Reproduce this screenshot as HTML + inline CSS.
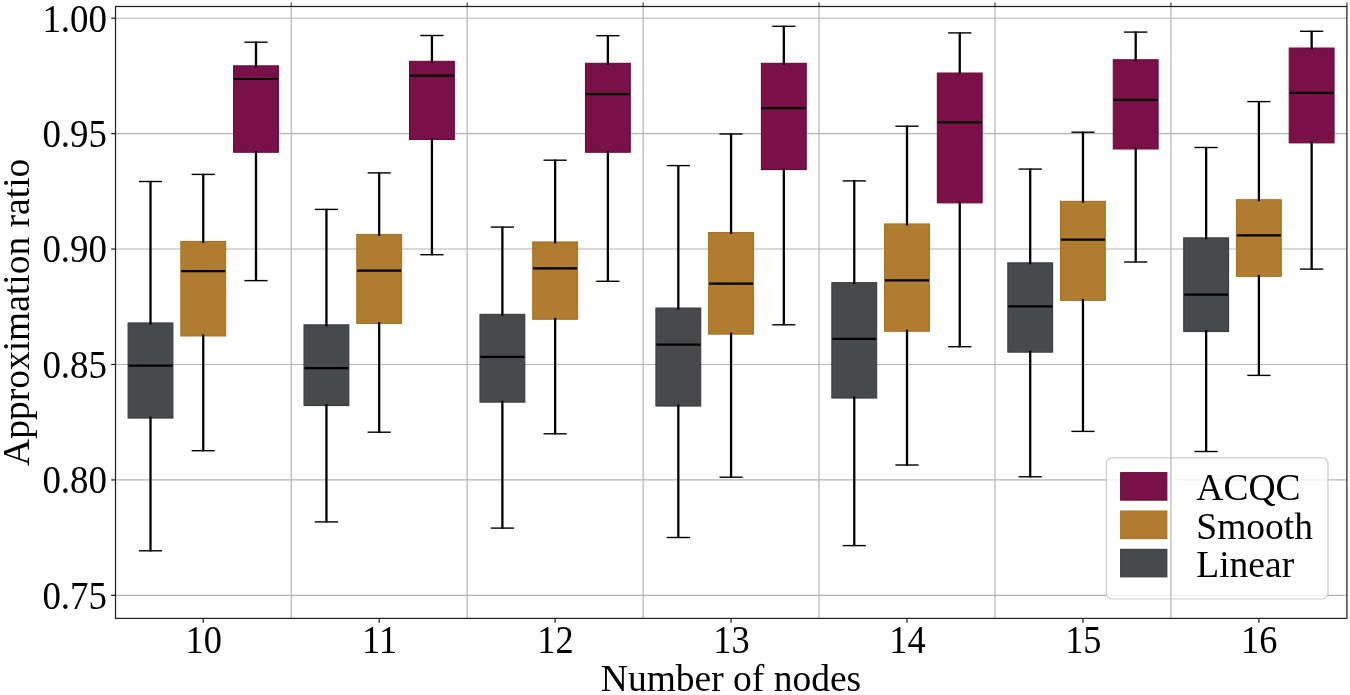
<!DOCTYPE html>
<html lang="en"><head><meta charset="utf-8"><title>Approximation ratio vs number of nodes</title>
<style>html,body{margin:0;padding:0;background:#fff}body{width:1350px;height:695px;overflow:hidden}svg{display:block}text{font-family:"Liberation Serif","Times New Roman",serif;fill:#000}</style>
</head><body>
<svg width="1350" height="695" viewBox="0 0 1350 695">
<rect x="0" y="0" width="1350" height="695" fill="#ffffff"/>
<g stroke="#b4b4b4" stroke-width="1.1" fill="none">
<line x1="115.5" y1="18.20" x2="1346.9" y2="18.20"/>
<line x1="115.5" y1="133.63" x2="1346.9" y2="133.63"/>
<line x1="115.5" y1="249.06" x2="1346.9" y2="249.06"/>
<line x1="115.5" y1="364.49" x2="1346.9" y2="364.49"/>
<line x1="115.5" y1="479.92" x2="1346.9" y2="479.92"/>
<line x1="115.5" y1="595.35" x2="1346.9" y2="595.35"/>
</g>
<g>
<rect x="128.10" y="322.95" width="44.8" height="95.10" fill="#48494b" stroke="#3b3c3e" stroke-width="1.1"/>
<g stroke="#000" fill="none">
<line x1="150.50" y1="180.90" x2="150.50" y2="324.40" stroke-width="2.3"/>
<line x1="150.50" y1="416.60" x2="150.50" y2="551.40" stroke-width="2.3"/>
<line x1="138.90" y1="181.50" x2="162.10" y2="181.50" stroke-width="1.4"/>
<line x1="138.90" y1="550.80" x2="162.10" y2="550.80" stroke-width="1.4"/>
<line x1="128.50" y1="365.70" x2="172.50" y2="365.70" stroke-width="2.2"/>
</g></g>
<g>
<rect x="180.85" y="241.45" width="44.8" height="94.50" fill="#b07d30" stroke="#a87222" stroke-width="1.1"/>
<g stroke="#000" fill="none">
<line x1="203.25" y1="173.80" x2="203.25" y2="242.90" stroke-width="2.3"/>
<line x1="203.25" y1="334.50" x2="203.25" y2="451.30" stroke-width="2.3"/>
<line x1="191.65" y1="174.40" x2="214.85" y2="174.40" stroke-width="1.4"/>
<line x1="191.65" y1="450.70" x2="214.85" y2="450.70" stroke-width="1.4"/>
<line x1="181.25" y1="271.20" x2="225.25" y2="271.20" stroke-width="2.2"/>
</g></g>
<g>
<rect x="233.60" y="65.85" width="44.8" height="86.40" fill="#7a1048" stroke="#6b0a3b" stroke-width="1.1"/>
<g stroke="#000" fill="none">
<line x1="256.00" y1="41.60" x2="256.00" y2="67.30" stroke-width="2.3"/>
<line x1="256.00" y1="150.80" x2="256.00" y2="281.20" stroke-width="2.3"/>
<line x1="244.40" y1="42.20" x2="267.60" y2="42.20" stroke-width="1.4"/>
<line x1="244.40" y1="280.60" x2="267.60" y2="280.60" stroke-width="1.4"/>
<line x1="234.00" y1="79.00" x2="278.00" y2="79.00" stroke-width="2.2"/>
</g></g>
<g>
<rect x="304.04" y="324.85" width="44.8" height="80.70" fill="#48494b" stroke="#3b3c3e" stroke-width="1.1"/>
<g stroke="#000" fill="none">
<line x1="326.44" y1="208.80" x2="326.44" y2="326.30" stroke-width="2.3"/>
<line x1="326.44" y1="404.10" x2="326.44" y2="522.50" stroke-width="2.3"/>
<line x1="314.84" y1="209.40" x2="338.04" y2="209.40" stroke-width="1.4"/>
<line x1="314.84" y1="521.90" x2="338.04" y2="521.90" stroke-width="1.4"/>
<line x1="304.44" y1="368.10" x2="348.44" y2="368.10" stroke-width="2.2"/>
</g></g>
<g>
<rect x="356.79" y="234.45" width="44.8" height="89.00" fill="#b07d30" stroke="#a87222" stroke-width="1.1"/>
<g stroke="#000" fill="none">
<line x1="379.19" y1="172.30" x2="379.19" y2="235.90" stroke-width="2.3"/>
<line x1="379.19" y1="322.00" x2="379.19" y2="432.80" stroke-width="2.3"/>
<line x1="367.59" y1="172.90" x2="390.79" y2="172.90" stroke-width="1.4"/>
<line x1="367.59" y1="432.20" x2="390.79" y2="432.20" stroke-width="1.4"/>
<line x1="357.19" y1="270.60" x2="401.19" y2="270.60" stroke-width="2.2"/>
</g></g>
<g>
<rect x="409.54" y="61.35" width="44.8" height="78.10" fill="#7a1048" stroke="#6b0a3b" stroke-width="1.1"/>
<g stroke="#000" fill="none">
<line x1="431.94" y1="34.90" x2="431.94" y2="62.80" stroke-width="2.3"/>
<line x1="431.94" y1="138.00" x2="431.94" y2="255.30" stroke-width="2.3"/>
<line x1="420.34" y1="35.50" x2="443.54" y2="35.50" stroke-width="1.4"/>
<line x1="420.34" y1="254.70" x2="443.54" y2="254.70" stroke-width="1.4"/>
<line x1="409.94" y1="75.60" x2="453.94" y2="75.60" stroke-width="2.2"/>
</g></g>
<g>
<rect x="479.98" y="314.35" width="44.8" height="87.80" fill="#48494b" stroke="#3b3c3e" stroke-width="1.1"/>
<g stroke="#000" fill="none">
<line x1="502.38" y1="226.50" x2="502.38" y2="315.80" stroke-width="2.3"/>
<line x1="502.38" y1="400.70" x2="502.38" y2="528.70" stroke-width="2.3"/>
<line x1="490.78" y1="227.10" x2="513.98" y2="227.10" stroke-width="1.4"/>
<line x1="490.78" y1="528.10" x2="513.98" y2="528.10" stroke-width="1.4"/>
<line x1="480.38" y1="356.80" x2="524.38" y2="356.80" stroke-width="2.2"/>
</g></g>
<g>
<rect x="532.73" y="241.95" width="44.8" height="77.30" fill="#b07d30" stroke="#a87222" stroke-width="1.1"/>
<g stroke="#000" fill="none">
<line x1="555.13" y1="159.60" x2="555.13" y2="243.40" stroke-width="2.3"/>
<line x1="555.13" y1="317.80" x2="555.13" y2="434.40" stroke-width="2.3"/>
<line x1="543.53" y1="160.20" x2="566.73" y2="160.20" stroke-width="1.4"/>
<line x1="543.53" y1="433.80" x2="566.73" y2="433.80" stroke-width="1.4"/>
<line x1="533.13" y1="268.30" x2="577.13" y2="268.30" stroke-width="2.2"/>
</g></g>
<g>
<rect x="585.48" y="63.35" width="44.8" height="88.90" fill="#7a1048" stroke="#6b0a3b" stroke-width="1.1"/>
<g stroke="#000" fill="none">
<line x1="607.88" y1="35.10" x2="607.88" y2="64.80" stroke-width="2.3"/>
<line x1="607.88" y1="150.80" x2="607.88" y2="281.90" stroke-width="2.3"/>
<line x1="596.28" y1="35.70" x2="619.48" y2="35.70" stroke-width="1.4"/>
<line x1="596.28" y1="281.30" x2="619.48" y2="281.30" stroke-width="1.4"/>
<line x1="585.88" y1="94.10" x2="629.88" y2="94.10" stroke-width="2.2"/>
</g></g>
<g>
<rect x="655.92" y="308.05" width="44.8" height="98.00" fill="#48494b" stroke="#3b3c3e" stroke-width="1.1"/>
<g stroke="#000" fill="none">
<line x1="678.32" y1="165.00" x2="678.32" y2="309.50" stroke-width="2.3"/>
<line x1="678.32" y1="404.60" x2="678.32" y2="538.10" stroke-width="2.3"/>
<line x1="666.72" y1="165.60" x2="689.92" y2="165.60" stroke-width="1.4"/>
<line x1="666.72" y1="537.50" x2="689.92" y2="537.50" stroke-width="1.4"/>
<line x1="656.32" y1="344.60" x2="700.32" y2="344.60" stroke-width="2.2"/>
</g></g>
<g>
<rect x="708.67" y="232.55" width="44.8" height="101.60" fill="#b07d30" stroke="#a87222" stroke-width="1.1"/>
<g stroke="#000" fill="none">
<line x1="731.07" y1="133.40" x2="731.07" y2="234.00" stroke-width="2.3"/>
<line x1="731.07" y1="332.70" x2="731.07" y2="477.80" stroke-width="2.3"/>
<line x1="719.47" y1="134.00" x2="742.67" y2="134.00" stroke-width="1.4"/>
<line x1="719.47" y1="477.20" x2="742.67" y2="477.20" stroke-width="1.4"/>
<line x1="709.07" y1="283.70" x2="753.07" y2="283.70" stroke-width="2.2"/>
</g></g>
<g>
<rect x="761.42" y="63.35" width="44.8" height="106.20" fill="#7a1048" stroke="#6b0a3b" stroke-width="1.1"/>
<g stroke="#000" fill="none">
<line x1="783.82" y1="25.70" x2="783.82" y2="64.80" stroke-width="2.3"/>
<line x1="783.82" y1="168.10" x2="783.82" y2="325.40" stroke-width="2.3"/>
<line x1="772.22" y1="26.30" x2="795.42" y2="26.30" stroke-width="1.4"/>
<line x1="772.22" y1="324.80" x2="795.42" y2="324.80" stroke-width="1.4"/>
<line x1="761.82" y1="108.20" x2="805.82" y2="108.20" stroke-width="2.2"/>
</g></g>
<g>
<rect x="831.86" y="282.65" width="44.8" height="115.40" fill="#48494b" stroke="#3b3c3e" stroke-width="1.1"/>
<g stroke="#000" fill="none">
<line x1="854.26" y1="180.30" x2="854.26" y2="284.10" stroke-width="2.3"/>
<line x1="854.26" y1="396.60" x2="854.26" y2="546.20" stroke-width="2.3"/>
<line x1="842.66" y1="180.90" x2="865.86" y2="180.90" stroke-width="1.4"/>
<line x1="842.66" y1="545.60" x2="865.86" y2="545.60" stroke-width="1.4"/>
<line x1="832.26" y1="338.90" x2="876.26" y2="338.90" stroke-width="2.2"/>
</g></g>
<g>
<rect x="884.61" y="223.95" width="44.8" height="107.30" fill="#b07d30" stroke="#a87222" stroke-width="1.1"/>
<g stroke="#000" fill="none">
<line x1="907.01" y1="125.60" x2="907.01" y2="225.40" stroke-width="2.3"/>
<line x1="907.01" y1="329.80" x2="907.01" y2="465.60" stroke-width="2.3"/>
<line x1="895.41" y1="126.20" x2="918.61" y2="126.20" stroke-width="1.4"/>
<line x1="895.41" y1="465.00" x2="918.61" y2="465.00" stroke-width="1.4"/>
<line x1="885.01" y1="280.30" x2="929.01" y2="280.30" stroke-width="2.2"/>
</g></g>
<g>
<rect x="937.36" y="73.05" width="44.8" height="129.80" fill="#7a1048" stroke="#6b0a3b" stroke-width="1.1"/>
<g stroke="#000" fill="none">
<line x1="959.76" y1="32.30" x2="959.76" y2="74.50" stroke-width="2.3"/>
<line x1="959.76" y1="201.40" x2="959.76" y2="347.30" stroke-width="2.3"/>
<line x1="948.16" y1="32.90" x2="971.36" y2="32.90" stroke-width="1.4"/>
<line x1="948.16" y1="346.70" x2="971.36" y2="346.70" stroke-width="1.4"/>
<line x1="937.76" y1="122.30" x2="981.76" y2="122.30" stroke-width="2.2"/>
</g></g>
<g>
<rect x="1007.80" y="262.85" width="44.8" height="89.30" fill="#48494b" stroke="#3b3c3e" stroke-width="1.1"/>
<g stroke="#000" fill="none">
<line x1="1030.20" y1="168.50" x2="1030.20" y2="264.30" stroke-width="2.3"/>
<line x1="1030.20" y1="350.70" x2="1030.20" y2="477.40" stroke-width="2.3"/>
<line x1="1018.60" y1="169.10" x2="1041.80" y2="169.10" stroke-width="1.4"/>
<line x1="1018.60" y1="476.80" x2="1041.80" y2="476.80" stroke-width="1.4"/>
<line x1="1008.20" y1="306.30" x2="1052.20" y2="306.30" stroke-width="2.2"/>
</g></g>
<g>
<rect x="1060.55" y="201.35" width="44.8" height="99.00" fill="#b07d30" stroke="#a87222" stroke-width="1.1"/>
<g stroke="#000" fill="none">
<line x1="1082.95" y1="131.60" x2="1082.95" y2="202.80" stroke-width="2.3"/>
<line x1="1082.95" y1="298.90" x2="1082.95" y2="432.00" stroke-width="2.3"/>
<line x1="1071.35" y1="132.20" x2="1094.55" y2="132.20" stroke-width="1.4"/>
<line x1="1071.35" y1="431.40" x2="1094.55" y2="431.40" stroke-width="1.4"/>
<line x1="1060.95" y1="239.60" x2="1104.95" y2="239.60" stroke-width="2.2"/>
</g></g>
<g>
<rect x="1113.30" y="59.75" width="44.8" height="89.20" fill="#7a1048" stroke="#6b0a3b" stroke-width="1.1"/>
<g stroke="#000" fill="none">
<line x1="1135.70" y1="31.50" x2="1135.70" y2="61.20" stroke-width="2.3"/>
<line x1="1135.70" y1="147.50" x2="1135.70" y2="262.60" stroke-width="2.3"/>
<line x1="1124.10" y1="32.10" x2="1147.30" y2="32.10" stroke-width="1.4"/>
<line x1="1124.10" y1="262.00" x2="1147.30" y2="262.00" stroke-width="1.4"/>
<line x1="1113.70" y1="99.90" x2="1157.70" y2="99.90" stroke-width="2.2"/>
</g></g>
<g>
<rect x="1183.74" y="237.85" width="44.8" height="93.70" fill="#48494b" stroke="#3b3c3e" stroke-width="1.1"/>
<g stroke="#000" fill="none">
<line x1="1206.14" y1="146.90" x2="1206.14" y2="239.30" stroke-width="2.3"/>
<line x1="1206.14" y1="330.10" x2="1206.14" y2="452.10" stroke-width="2.3"/>
<line x1="1194.54" y1="147.50" x2="1217.74" y2="147.50" stroke-width="1.4"/>
<line x1="1194.54" y1="451.50" x2="1217.74" y2="451.50" stroke-width="1.4"/>
<line x1="1184.14" y1="294.60" x2="1228.14" y2="294.60" stroke-width="2.2"/>
</g></g>
<g>
<rect x="1236.49" y="199.75" width="44.8" height="76.60" fill="#b07d30" stroke="#a87222" stroke-width="1.1"/>
<g stroke="#000" fill="none">
<line x1="1258.89" y1="101.00" x2="1258.89" y2="201.20" stroke-width="2.3"/>
<line x1="1258.89" y1="274.90" x2="1258.89" y2="376.00" stroke-width="2.3"/>
<line x1="1247.29" y1="101.60" x2="1270.49" y2="101.60" stroke-width="1.4"/>
<line x1="1247.29" y1="375.40" x2="1270.49" y2="375.40" stroke-width="1.4"/>
<line x1="1236.89" y1="235.40" x2="1280.89" y2="235.40" stroke-width="2.2"/>
</g></g>
<g>
<rect x="1289.24" y="48.05" width="44.8" height="94.80" fill="#7a1048" stroke="#6b0a3b" stroke-width="1.1"/>
<g stroke="#000" fill="none">
<line x1="1311.64" y1="30.70" x2="1311.64" y2="49.50" stroke-width="2.3"/>
<line x1="1311.64" y1="141.40" x2="1311.64" y2="269.70" stroke-width="2.3"/>
<line x1="1300.04" y1="31.30" x2="1323.24" y2="31.30" stroke-width="1.4"/>
<line x1="1300.04" y1="269.10" x2="1323.24" y2="269.10" stroke-width="1.4"/>
<line x1="1289.64" y1="92.90" x2="1333.64" y2="92.90" stroke-width="2.2"/>
</g></g>
<rect x="1106.4" y="457.9" width="221.6" height="141.1" rx="5.5" ry="5.5" fill="#ffffff" fill-opacity="0.8" stroke="#c6c6c6" stroke-opacity="0.9" stroke-width="1.2"/>
<rect x="1120.65" y="472.65" width="46.2" height="27.5" fill="#7a1048" stroke="#6b0a3b" stroke-width="1.1"/>
<text x="1196.3" y="499.8" font-size="37.5">ACQC</text>
<rect x="1120.65" y="511.05" width="46.2" height="27.5" fill="#b07d30" stroke="#a87222" stroke-width="1.1"/>
<text x="1196.3" y="538.5" font-size="37.5">Smooth</text>
<rect x="1120.65" y="549.35" width="46.2" height="27.5" fill="#48494b" stroke="#3b3c3e" stroke-width="1.1"/>
<text x="1196.3" y="577.1" font-size="37.5">Linear</text>
<g stroke="#b4b4b4" stroke-width="1.2" fill="none">
<line x1="291.22" y1="6.5" x2="291.22" y2="618.4"/>
<line x1="467.16" y1="6.5" x2="467.16" y2="618.4"/>
<line x1="643.10" y1="6.5" x2="643.10" y2="618.4"/>
<line x1="819.04" y1="6.5" x2="819.04" y2="618.4"/>
<line x1="994.98" y1="6.5" x2="994.98" y2="618.4"/>
<line x1="1170.92" y1="6.5" x2="1170.92" y2="618.4"/>
</g>
<g stroke="#222222" stroke-width="1.25" fill="none">
<rect x="115.5" y="6.5" width="1231.4" height="611.9"/>
<line x1="111.2" y1="18.20" x2="115.5" y2="18.20"/>
<line x1="111.2" y1="133.63" x2="115.5" y2="133.63"/>
<line x1="111.2" y1="249.06" x2="115.5" y2="249.06"/>
<line x1="111.2" y1="364.49" x2="115.5" y2="364.49"/>
<line x1="111.2" y1="479.92" x2="115.5" y2="479.92"/>
<line x1="111.2" y1="595.35" x2="115.5" y2="595.35"/>
<line x1="203.25" y1="618.4" x2="203.25" y2="622.6999999999999"/>
<line x1="379.19" y1="618.4" x2="379.19" y2="622.6999999999999"/>
<line x1="555.13" y1="618.4" x2="555.13" y2="622.6999999999999"/>
<line x1="731.07" y1="618.4" x2="731.07" y2="622.6999999999999"/>
<line x1="907.01" y1="618.4" x2="907.01" y2="622.6999999999999"/>
<line x1="1082.95" y1="618.4" x2="1082.95" y2="622.6999999999999"/>
<line x1="1258.89" y1="618.4" x2="1258.89" y2="622.6999999999999"/>
<line x1="291.22" y1="2.5" x2="291.22" y2="6.5" stroke-width="1"/>
<line x1="467.16" y1="2.5" x2="467.16" y2="6.5" stroke-width="1"/>
<line x1="643.10" y1="2.5" x2="643.10" y2="6.5" stroke-width="1"/>
<line x1="819.04" y1="2.5" x2="819.04" y2="6.5" stroke-width="1"/>
<line x1="994.98" y1="2.5" x2="994.98" y2="6.5" stroke-width="1"/>
<line x1="1170.92" y1="2.5" x2="1170.92" y2="6.5" stroke-width="1"/>
<line x1="1346.90" y1="2.5" x2="1346.90" y2="6.5" stroke-width="1"/>
</g>
<g font-size="37.5">
<text transform="translate(107.0 31.60) scale(0.985 1.045)" text-anchor="end">1.00</text>
<text transform="translate(107.0 147.03) scale(0.985 1.045)" text-anchor="end">0.95</text>
<text transform="translate(107.0 262.46) scale(0.985 1.045)" text-anchor="end">0.90</text>
<text transform="translate(107.0 377.89) scale(0.985 1.045)" text-anchor="end">0.85</text>
<text transform="translate(107.0 493.32) scale(0.985 1.045)" text-anchor="end">0.80</text>
<text transform="translate(107.0 608.75) scale(0.985 1.045)" text-anchor="end">0.75</text>
<text transform="translate(203.65 653.1) scale(0.97 1.045)" text-anchor="middle">10</text>
<text transform="translate(379.59 653.1) scale(0.97 1.045)" text-anchor="middle">11</text>
<text transform="translate(555.53 653.1) scale(0.97 1.045)" text-anchor="middle">12</text>
<text transform="translate(731.47 653.1) scale(0.97 1.045)" text-anchor="middle">13</text>
<text transform="translate(907.41 653.1) scale(0.97 1.045)" text-anchor="middle">14</text>
<text transform="translate(1083.35 653.1) scale(0.97 1.045)" text-anchor="middle">15</text>
<text transform="translate(1259.29 653.1) scale(0.97 1.045)" text-anchor="middle">16</text>
<text x="731.0" y="691.4" text-anchor="middle">Number of nodes</text>
<text transform="translate(29.0 312.3) rotate(-90)" text-anchor="middle">Approximation ratio</text>
</g>
</svg>
</body></html>
